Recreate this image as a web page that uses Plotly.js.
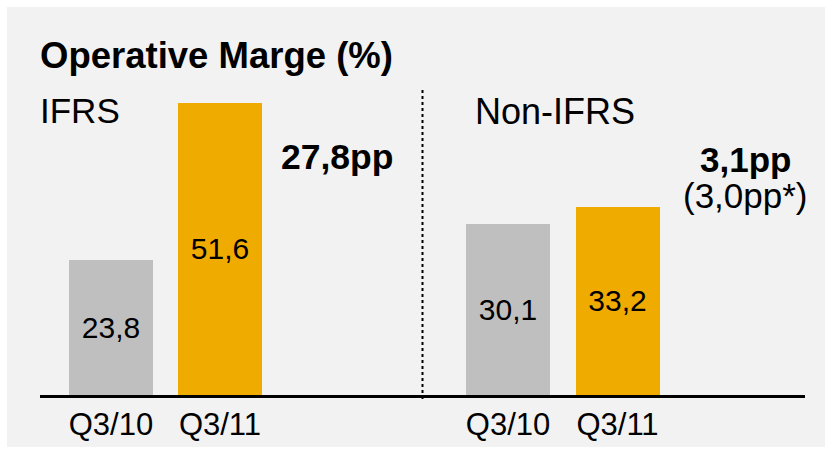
<!DOCTYPE html>
<html>
<head>
<meta charset="utf-8">
<script src="https://cdn.plot.ly/plotly-3.0.1.min.js"></script>
<style>html,body{margin:0;padding:0;background:#fff;}#chart{width:825px;height:449px;}</style>
</head>
<body>
<div id="chart"></div>
<script>
// ---- data ----
var categories = ['Q3/10', 'Q3/11'];
var ifrsValues = [23.8, 51.6];
var nonIfrsValues = [30.1, 33.2];
var groupLabels = ['IFRS', 'Non-IFRS'];
var chartTitle = 'Operative Marge (%)';
var ifrsDelta = '27,8pp';
var nonIfrsDelta = '3,1pp';
var nonIfrsDeltaNote = '(3,0pp*)';

// ---- styling ----
var FONT = 'Arial, "Liberation Sans", sans-serif';
var GREY = '#bfbfbf';
var ORANGE = '#f0ab00';
var barColors = [GREY, ORANGE];

function fmt(v) { return v.toFixed(1).replace('.', ','); }

var traces = [
  {
    type: 'bar', x: categories, y: ifrsValues, xaxis: 'x', yaxis: 'y',
    width: 0.77,
    marker: {color: barColors},
    text: ifrsValues.map(fmt), textposition: 'inside', insidetextanchor: 'middle',
    textangle: 0,
    textfont: {family: FONT, size: 30, color: '#000'},
    hoverinfo: 'skip'
  },
  {
    type: 'bar', x: categories, y: nonIfrsValues, xaxis: 'x2', yaxis: 'y',
    width: 0.767,
    marker: {color: barColors},
    text: nonIfrsValues.map(fmt), textposition: 'inside', insidetextanchor: 'middle',
    textangle: 0,
    textfont: {family: FONT, size: 30, color: '#000'},
    hoverinfo: 'skip'
  }
];

var xCommon = {
  type: 'category', showgrid: false, zeroline: false,
  showline: true, linecolor: '#000', linewidth: 3,
  ticks: '', tickfont: {family: FONT, size: 31, color: '#000'},
  fixedrange: true, anchor: 'y'
};

var layout = {
  width: 825, height: 449,
  margin: {l: 40, r: 20, t: 55, b: 54, pad: 0},
  paper_bgcolor: '#ffffff',
  plot_bgcolor: 'rgba(0,0,0,0)',
  showlegend: false,
  bargap: 0,
  font: {family: FONT, color: '#000'},
  xaxis: Object.assign({}, xCommon, {domain: [0, 0.5], range: [-0.651, 2.858]}),
  xaxis2: Object.assign({}, xCommon, {domain: [0.5, 1], range: [-0.781, 2.712]}),
  yaxis: {range: [0, 60], visible: false, showgrid: false, zeroline: false, fixedrange: true},
  shapes: [
    {type: 'rect', xref: 'paper', yref: 'paper', x0: -0.0431, x1: 1.03, y0: -0.153, y1: 1.141,
     fillcolor: '#f2f2f2', line: {width: 0}, layer: 'below'},
    {type: 'line', xref: 'paper', yref: 'paper', x0: 0.5, x1: 0.5, y0: -0.012, y1: 0.903,
     line: {color: '#000', width: 2, dash: 'dot'}}
  ],
  annotations: [
    {xref: 'paper', yref: 'paper', x: -0.003, y: 1.0, xanchor: 'left', yanchor: 'middle',
     text: '<b>' + chartTitle + '</b>', showarrow: false, font: {family: FONT, size: 36.5, color: '#000'}},
    {xref: 'paper', yref: 'paper', x: -0.003, y: 0.837, xanchor: 'left', yanchor: 'middle',
     text: groupLabels[0], showarrow: false, font: {family: FONT, size: 35, color: '#000'}},
    {xref: 'paper', yref: 'paper', x: 0.6732, y: 0.834, xanchor: 'center', yanchor: 'middle',
     text: groupLabels[1], showarrow: false, font: {family: FONT, size: 36, color: '#000'}},
    {xref: 'paper', yref: 'paper', x: 0.388, y: 0.70, xanchor: 'center', yanchor: 'middle',
     text: '<b>' + ifrsDelta + '</b>', showarrow: false, font: {family: FONT, size: 35.5, color: '#000'}},
    {xref: 'paper', yref: 'paper', x: 0.9216, y: 0.693, xanchor: 'center', yanchor: 'middle',
     text: '<b>' + nonIfrsDelta + '</b>', showarrow: false, font: {family: FONT, size: 35, color: '#000'}},
    {xref: 'paper', yref: 'paper', x: 0.9216, y: 0.588, xanchor: 'center', yanchor: 'middle',
     text: nonIfrsDeltaNote, showarrow: false, font: {family: FONT, size: 35, color: '#000'}}
  ]
};

Plotly.newPlot('chart', traces, layout, {displayModeBar: false, staticPlot: true});
</script>
</body>
</html>
